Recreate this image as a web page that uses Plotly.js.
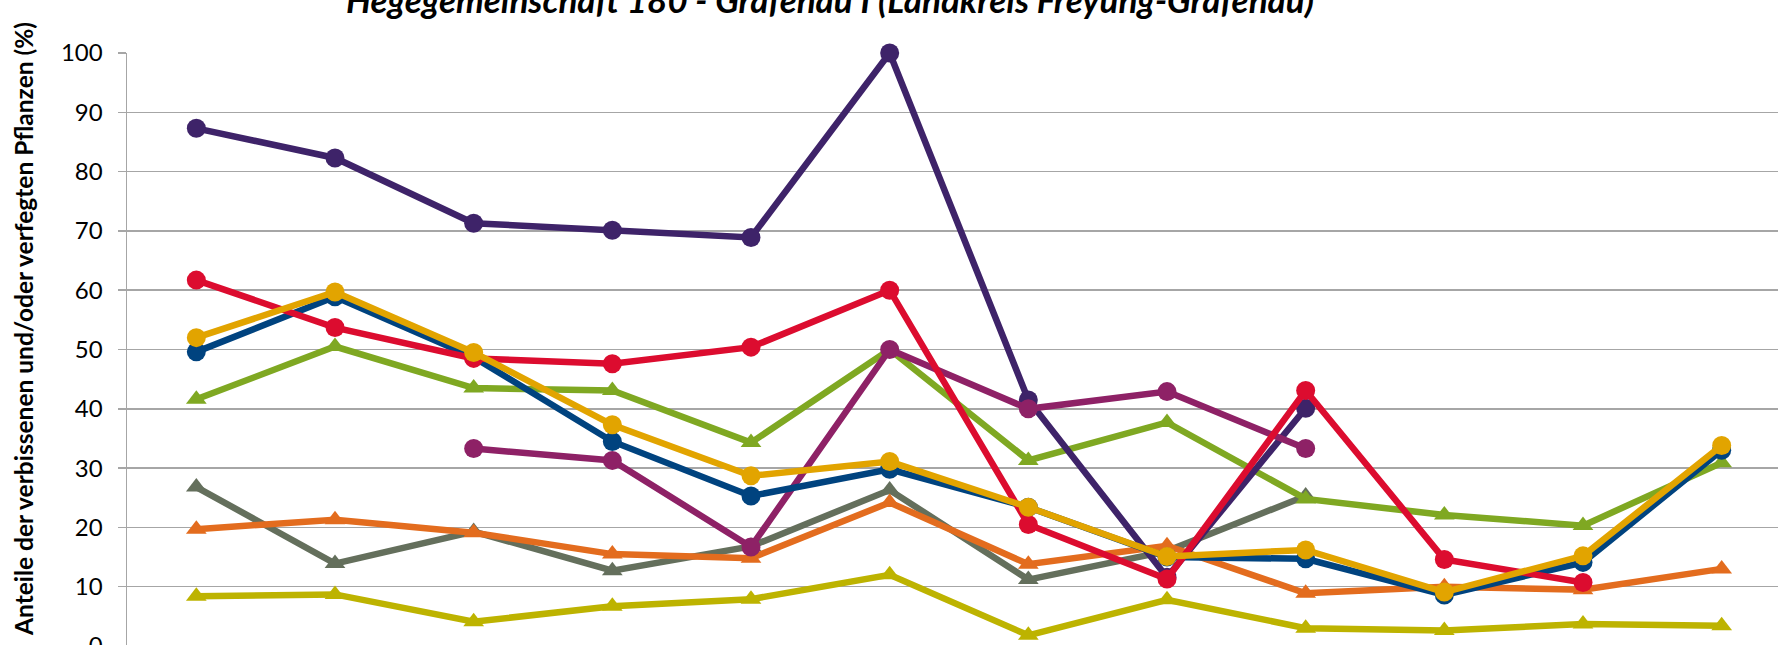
<!DOCTYPE html>
<html>
<head>
<meta charset="utf-8">
<script src="https://cdn.plot.ly/plotly-3.0.1.min.js"></script>
<style>
  html, body { margin: 0; padding: 0; background: #ffffff; overflow: hidden; }
  #chart { width: 1800px; height: 720px; }
</style>
</head>
<body>
<div id="chart"></div>
<script>
// Categories (survey years; the axis labels lie outside the visible crop)
const years = ["1991", "1994", "1997", "2000", "2003", "2006", "2009", "2012", "2015", "2018", "2021", "2024"];

// Series values (% of browsed and/or frayed plants)
const olive     = [8.4, 8.7, 4.1, 6.7, 7.9, 12.0, 1.8, 7.8, 3.0, 2.6, 3.7, 3.4];
const gray      = [26.8, 13.9, 19.3, 12.7, 16.8, 26.3, 11.2, 16.0, 25.3, null, null, null];
const orange    = [19.7, 21.3, 19.1, 15.5, 14.8, 24.2, 13.8, 16.9, 8.9, 10.0, 9.5, 13.0];
const green     = [41.6, 50.5, 43.5, 43.1, 34.3, 50.0, 31.3, 37.7, 24.8, 22.1, 20.3, 30.9];
const darkPurple= [87.3, 82.3, 71.3, 70.1, 68.9, 100.0, 41.5, 11.6, 40.1, null, null, null];
const magenta   = [null, null, 33.3, 31.3, 16.7, 50.0, 40.0, 42.9, 33.3, null, null, null];
const blue      = [49.6, 58.9, 48.7, 34.5, 25.3, 29.8, 23.4, 15.0, 14.7, 8.6, 14.1, 33.0];
const red       = [61.7, 53.7, 48.5, 47.6, 50.4, 60.0, 20.5, 11.3, 43.1, 14.6, 10.7, null];
const gold      = [52.0, 59.7, 49.5, 37.3, 28.7, 31.1, 23.4, 15.1, 16.2, 9.1, 15.2, 33.8];

const seriesNames = ["Sonstiges Laubholz (verfegt)", "Kiefer", "Fichte (verfegt)", "Buche",
                     "Tanne", "Eiche", "Laubholz gesamt", "Edellaubholz", "Alle Baumarten"];
const seriesData = [olive, gray, orange, green, darkPurple, magenta, blue, red, gold];
const seriesColors = ["#BDB300", "#646F5C", "#E36C1E", "#7FA822", "#3E2369", "#8E2166", "#00437F", "#DC0C2F", "#E2A400"];
const seriesSymbols = ["triangle-up", "triangle-up", "triangle-up", "triangle-up", "circle", "circle", "circle", "circle", "circle"];

const traces = seriesData.map((vals, i) => ({
  type: "scatter",
  mode: "lines+markers",
  name: seriesNames[i],
  x: years,
  y: vals,
  cliponaxis: false,
  line: { color: seriesColors[i], width: 6.5 },
  marker: { color: seriesColors[i], symbol: seriesSymbols[i], size: seriesSymbols[i] === "circle" ? 19 : 18 },
  connectgaps: false,
  hoverinfo: "x+y+name"
}));

const W = 1800, H = 720;
const mL = 127, mT = 53, mB = 74, mR = 9;
const plotW = W - mL - mR, plotH = H - mT - mB;

const layout = {
  width: W,
  height: H,
  margin: { l: mL, r: mR, t: mT, b: mB, pad: 0 },
  paper_bgcolor: "#ffffff",
  plot_bgcolor: "#ffffff",
  showlegend: false,
  font: { family: "Lato, 'Noto Sans', sans-serif", color: "#000000" },
  title: {
    text: "<b><i>Hegegemeinschaft 180 - Grafenau I (Landkreis Freyung-Grafenau)</i></b>",
    font: { family: "Lato, 'Noto Sans', sans-serif", size: 35, color: "#000000" },
    x: 830 / W,
    xanchor: "center",
    xref: "container",
    y: 1 - 1 / H,
    yref: "container",
    yanchor: "middle"
  },
  xaxis: {
    type: "category",
    range: [-0.5, 11.5],
    showgrid: false,
    zeroline: false,
    showline: true,
    linecolor: "#A6A6A6",
    linewidth: 1.5,
    ticks: "",
    showticklabels: false
  },
  yaxis: {
    range: [0, 100],
    dtick: 10,
    tick0: 0,
    showgrid: true,
    gridcolor: "#A6A6A6",
    gridwidth: 1.5,
    zeroline: false,
    showline: true,
    linecolor: "#A6A6A6",
    linewidth: 1.5,
    ticks: "outside",
    ticklen: 8,
    tickwidth: 1.5,
    tickcolor: "#A6A6A6",
    ticklabelstandoff: 10,
    tickfont: { size: 24, color: "#000000", family: "Lato, 'Noto Sans', sans-serif" }
  },
  annotations: [{
    text: "<b>Anteile der verbissenen und/oder verfegten Pflanzen (%)</b>",
    textangle: -90,
    xref: "paper",
    yref: "paper",
    x: (23 - mL) / plotW,
    y: (H - mB - 329) / plotH,
    xanchor: "center",
    yanchor: "middle",
    showarrow: false,
    font: { family: "Lato, 'Noto Sans', sans-serif", size: 24.5, color: "#000000" }
  }]
};

Plotly.newPlot("chart", traces, layout, { displayModeBar: false, staticPlot: true });
</script>
</body>
</html>
